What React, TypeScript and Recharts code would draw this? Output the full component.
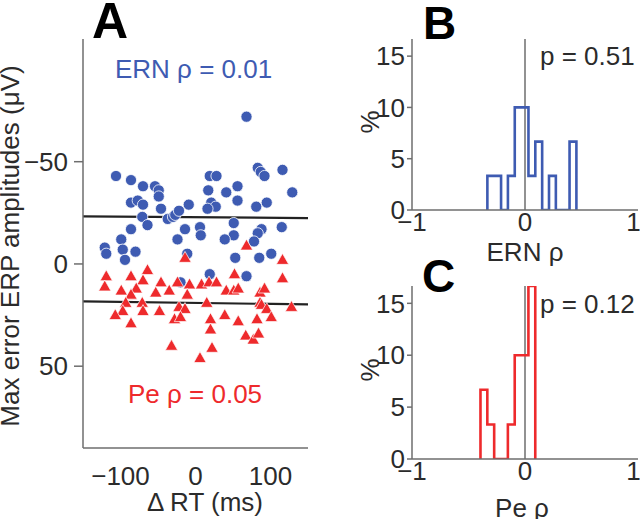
import React from "react";
import { ComposedChart, Scatter, LineChart, Line, XAxis, YAxis, ReferenceLine } from "recharts";

// panel A: each point is [Δ RT (ms), amplitude (µV)]
const ernPoints: [number, number][] = [
  [68, -72], [-106, -43], [-86, -41], [-70, -38], [-54, -38], [-49, -36],
  [-86, -30], [-77, -31], [-70, -29], [-49, -33], [-46, -27], [-71, -23],
  [-64, -19], [-86, -17], [-99, -12], [-121, -8], [-119, -5], [-97, -7],
  [-94, -2], [-80, -6], [-37, -22], [-30, -23], [-27, -24], [-22, -26],
  [-9, -29], [-14, -17], [-24, -12], [-11, -5], [6, -18], [7, -14],
  [17, -36], [19, -43], [28, -43], [21, -30], [27, -28], [16, -27],
  [41, -35], [56, -38], [56, -31], [51, -20], [51, -14], [39, -12],
  [53, -3], [83, -47], [87, -45], [92, -43], [81, -28], [95, -30],
  [116, -46], [129, -35], [88, -17], [83, -15], [78, -11], [115, -18],
  [85, -3], [101, -5], [-20, 9], [19, 5], [68, 6],
];

const pePoints: [number, number][] = [
  [-14, -3], [68, -9], [116, -2], [116, 7], [-119, 6], [-121, 11],
  [-99, 13], [-86, 6], [-64, 3], [-70, 8], [-79, 12], [-86, 15],
  [-93, 19], [-97, 23], [-107, 25], [-86, 29], [-71, 19], [-70, 23],
  [-46, 9], [-53, 14], [-35, 13], [-48, 23], [-24, 9], [-8, 10],
  [-11, 15], [-22, 21], [-14, 22], [-28, 27], [-20, 26], [-32, 40],
  [6, 46], [22, 41], [8, 10], [18, 9], [28, 9], [15, 19],
  [20, 27], [20, 32], [52, 5], [41, 13], [51, 13], [57, 12],
  [39, 25], [57, 28], [67, 35], [77, 37], [84, 34], [86, 14],
  [92, 12], [86, 19], [88, 20], [95, 22], [82, 27], [101, 26],
  [128, 21],
];

// fitted lines, value at x = -150 and x = 150
const ernFit = [-23.3, -22.4];
const peFit = [18.3, 19.8];

// panels B and C: % of subjects per bin of rho
const binWidth = 2 / 33;
const ernStart = -0.333;
const ernPct = [3.33, 3.33, 0, 3.33, 10, 10, 3.33, 6.67, 0, 3.33, 0, 0, 6.67];
const peStart = -0.394;
const pePct = [6.67, 3.33, 0, 0, 3.33, 10, 10, 16.67];

const BLUE = "#3e5bb2";
const RED = "#ee2a2c";
const AXIS = "#6e6e6e";
const INK = "#2b2b2b";
const FONT = "'Liberation Sans', Arial, sans-serif";

const toXY = (pts: [number, number][]) => pts.map(([x, y]) => ({ x, y }));

const toSteps = (start: number, pct: number[]) => {
  const pts = [{ x: start, y: 0 }];
  pct.forEach((p, i) => pts.push({ x: start + i * binWidth, y: p }));
  pts.push({ x: start + pct.length * binWidth, y: 0 });
  return pts;
};

const minus = (v: number) => (v < 0 ? `\u2212${Math.abs(v)}` : `${v}`);

const tickStyle = { fontSize: 26, fill: INK, fontFamily: FONT };

const Dot = (p: any) => (
  <circle cx={p.cx} cy={p.cy} r={5.6} fill={BLUE} stroke="#ffffff" strokeWidth={0.8} />
);

const Tri = (p: any) => {
  const { cx, cy } = p;
  return (
    <polygon
      points={`${cx},${cy - 6.4} ${cx + 6.2},${cy + 4.5} ${cx - 6.2},${cy + 4.5}`}
      fill={RED}
      stroke="#ffffff"
      strokeWidth={0.7}
    />
  );
};

const Hist = ({ data, color, top, height, marginTop, marginBottom }: any) => (
  <div style={{ position: "absolute", left: 360, top }}>
    <LineChart
      width={280}
      height={height}
      data={data}
      margin={{ top: marginTop, right: 2, bottom: marginBottom, left: 0 }}
    >
      <XAxis
        type="number"
        dataKey="x"
        domain={[-1, 1]}
        ticks={[-1, 0, 1]}
        tickFormatter={minus}
        tick={tickStyle}
        tickLine={false}
        tickSize={0}
        tickMargin={3}
        height={30}
        stroke={AXIS}
        strokeWidth={1.5}
        allowDataOverflow
      />
      <YAxis
        type="number"
        domain={[0, 16.67]}
        ticks={[0, 5, 10, 15]}
        tick={tickStyle}
        tickSize={5}
        tickMargin={2}
        width={52}
        stroke={AXIS}
        strokeWidth={1.5}
        allowDataOverflow
      />
      <ReferenceLine x={0} stroke={AXIS} strokeWidth={1.5} />
      <Line
        type="stepAfter"
        dataKey="y"
        stroke={color}
        strokeWidth={2.6}
        dot={false}
        isAnimationActive={false}
      />
    </LineChart>
  </div>
);

export default function App() {
  return (
    <div style={{ position: "absolute", left: 0, top: 0, width: 640, height: 519, background: "#fff", fontFamily: FONT }}>
      <div style={{ position: "absolute", left: 0, top: 0 }}>
        <ComposedChart width={330} height={519} margin={{ top: 39, right: 22, bottom: 31, left: 0 }}>
          <XAxis
            type="number"
            dataKey="x"
            domain={[-150, 150]}
            ticks={[-100, 0, 100]}
            tickFormatter={minus}
            tick={tickStyle}
            tickLine={false}
            tickSize={0}
            tickMargin={19}
            height={40}
            stroke={AXIS}
            strokeWidth={1.5}
          />
          <YAxis
            type="number"
            dataKey="y"
            domain={[-110, 90]}
            reversed
            ticks={[-50, 0, 50]}
            tickFormatter={minus}
            tick={tickStyle}
            tickSize={9}
            tickMargin={6}
            width={83}
            stroke={AXIS}
            strokeWidth={1.5}
          />
          <ReferenceLine segment={[{ x: -150, y: ernFit[0] }, { x: 150, y: ernFit[1] }]} stroke="#222" strokeWidth={2.2} />
          <ReferenceLine segment={[{ x: -150, y: peFit[0] }, { x: 150, y: peFit[1] }]} stroke="#222" strokeWidth={2.2} />
          <Scatter data={toXY(ernPoints)} shape={Dot} isAnimationActive={false} />
          <Scatter data={toXY(pePoints)} shape={Tri} isAnimationActive={false} />
        </ComposedChart>
      </div>

      <Hist data={toSteps(ernStart, ernPct)} color={BLUE} top={0} height={260} marginTop={39} marginBottom={20} />
      <Hist data={toSteps(peStart, pePct)} color={RED} top={260} height={259} marginTop={26} marginBottom={30} />

      <svg width={640} height={519} style={{ position: "absolute", left: 0, top: 0, pointerEvents: "none" }} fontFamily={FONT}>
        <text x={92} y={38} fontSize={50} fontWeight="bold" fill="#000">A</text>
        <text x={115} y={78} fontSize={26} fill={BLUE}>ERN ρ = 0.01</text>
        <text x={128} y={403} fontSize={26} fill={RED}>Pe ρ = 0.05</text>
        <text x={19} y={246} fontSize={26} fill={INK} textAnchor="middle" transform="rotate(-90 19 246)">
          Max error ERP amplitudes (μV)
        </text>
        <text x={205} y={511} fontSize={26} fill={INK} textAnchor="middle">Δ RT (ms)</text>

        <text x={423} y={39} fontSize={46} fontWeight="bold" fill="#000">B</text>
        <text x={540} y={65} fontSize={26} fill={INK}>p = 0.51</text>
        <text x={379} y={122} fontSize={26} fill={INK} textAnchor="middle" transform="rotate(-90 379 122)">%</text>
        <text x={525} y={261} fontSize={26} fill={INK} textAnchor="middle">ERN ρ</text>

        <text x={422} y={292} fontSize={46} fontWeight="bold" fill="#000">C</text>
        <text x={540} y={313} fontSize={26} fill={INK}>p = 0.12</text>
        <text x={379} y={370} fontSize={26} fill={INK} textAnchor="middle" transform="rotate(-90 379 370)">%</text>
        <text x={522} y={517} fontSize={26} fill={INK} textAnchor="middle">Pe ρ</text>
      </svg>
    </div>
  );
}
